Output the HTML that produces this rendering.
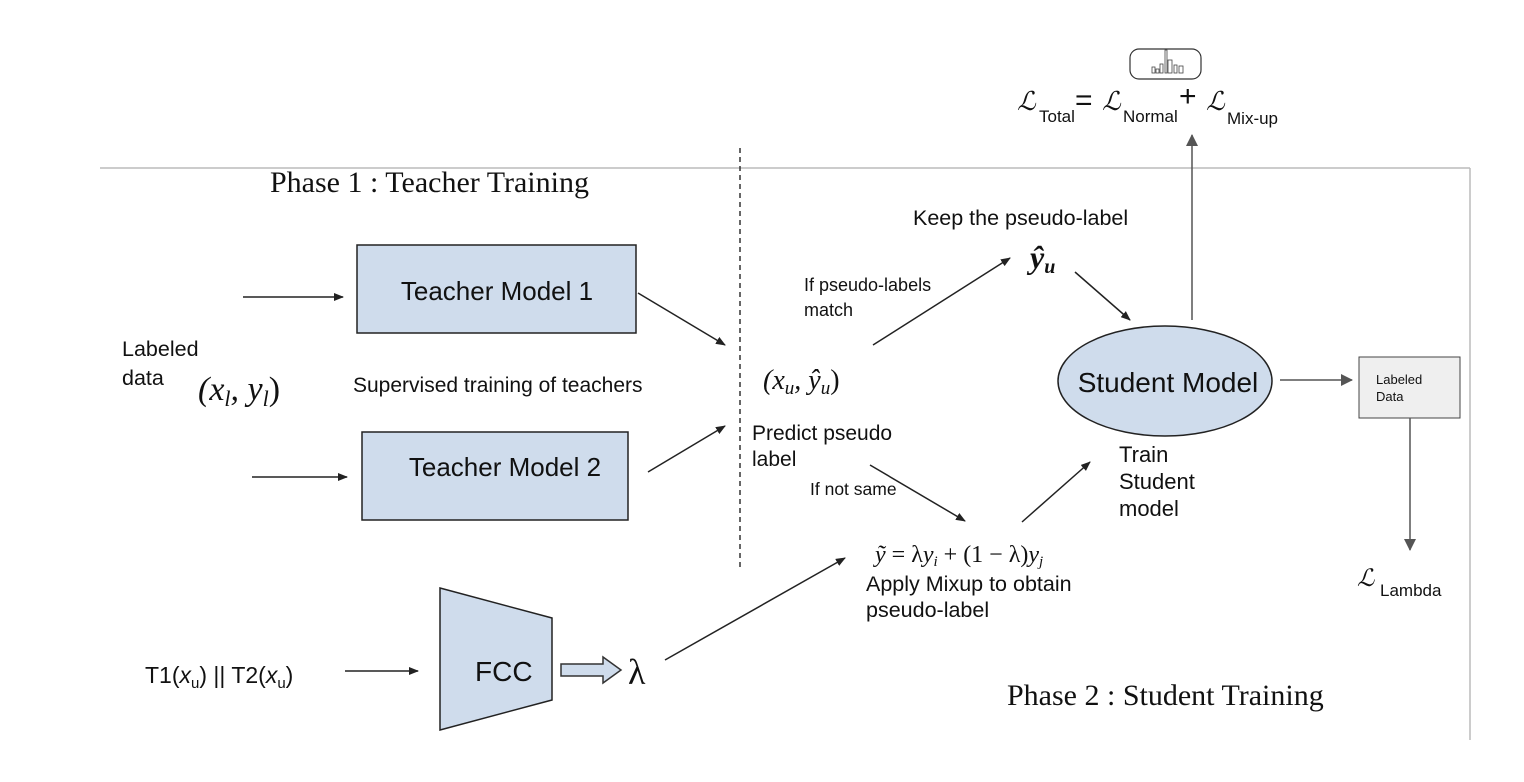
<!DOCTYPE html>
<html><head><meta charset="utf-8"><style>
html,body{margin:0;padding:0;background:#fff;}
svg{display:block;}
.s{font-family:"Liberation Sans",sans-serif;fill:#111;}
.r{font-family:"Liberation Serif",serif;fill:#111;}
.m{font-family:"Liberation Serif",serif;font-style:italic;fill:#111;}
</style></head><body>
<svg width="1524" height="782" viewBox="0 0 1524 782" xmlns="http://www.w3.org/2000/svg">
<defs>
<marker id="a" markerWidth="10" markerHeight="8" refX="9" refY="4" orient="auto" markerUnits="userSpaceOnUse"><path d="M0,0 L10,4 L0,8 z" fill="#222"/></marker>
<marker id="g" markerWidth="12" markerHeight="12" refX="11" refY="6" orient="auto" markerUnits="userSpaceOnUse"><path d="M0,0 L12,6 L0,12 z" fill="#555"/></marker>
</defs>
<line x1="100" y1="168" x2="1470" y2="168" stroke="#bbb" stroke-width="1.5"/>
<line x1="1470" y1="168" x2="1470" y2="740" stroke="#bbb" stroke-width="1.5"/>
<line x1="740" y1="148" x2="740" y2="568" stroke="#333" stroke-width="1.5" stroke-dasharray="5,4"/>

<text class="r" x="270" y="192" font-size="30">Phase 1 : Teacher Training</text>
<text class="r" x="1007" y="705" font-size="30">Phase 2 : Student Training</text>

<rect x="357" y="245" width="279" height="88" fill="#cfdcec" stroke="#222" stroke-width="1.5"/>
<text class="s" x="497" y="300" font-size="26" text-anchor="middle">Teacher Model 1</text>
<rect x="362" y="432" width="266" height="88" fill="#cfdcec" stroke="#222" stroke-width="1.5"/>
<text class="s" x="505" y="476" font-size="26" text-anchor="middle">Teacher Model 2</text>
<line x1="243" y1="297" x2="343" y2="297" stroke="#222" stroke-width="1.5" marker-end="url(#a)"/>
<line x1="252" y1="477" x2="347" y2="477" stroke="#222" stroke-width="1.5" marker-end="url(#a)"/>
<line x1="638" y1="293" x2="725" y2="345" stroke="#222" stroke-width="1.5" marker-end="url(#a)"/>
<line x1="648" y1="472" x2="725" y2="426" stroke="#222" stroke-width="1.5" marker-end="url(#a)"/>

<text class="s" x="122" y="356" font-size="21.5">Labeled</text>
<text class="s" x="122" y="385" font-size="21.5">data</text>
<text class="m" x="198" y="400" font-size="34">(x<tspan font-size="22" dy="6">l</tspan><tspan dy="-6">, y</tspan><tspan font-size="22" dy="6">l</tspan><tspan dy="-6" font-style="normal">)</tspan></text>
<text class="s" x="353" y="392" font-size="21">Supervised training of teachers</text>

<text class="m" x="763" y="389" font-size="28">(x<tspan font-size="19" dy="5">u</tspan><tspan dy="-5">, ŷ</tspan><tspan font-size="19" dy="5">u</tspan><tspan dy="-5" font-style="normal">)</tspan></text>
<text class="s" x="752" y="440" font-size="21">Predict pseudo</text>
<text class="s" x="752" y="466" font-size="21">label</text>
<text class="s" x="804" y="291" font-size="18">If pseudo-labels</text>
<text class="s" x="804" y="316" font-size="18">match</text>
<line x1="873" y1="345" x2="1010" y2="258" stroke="#222" stroke-width="1.5" marker-end="url(#a)"/>
<text class="s" x="913" y="225" font-size="21.5">Keep the pseudo-label</text>
<text class="m" x="1030" y="268" font-size="32" font-weight="bold">ŷ<tspan font-size="20" dy="5">u</tspan></text>
<line x1="1075" y1="272" x2="1130" y2="320" stroke="#222" stroke-width="1.5" marker-end="url(#a)"/>
<text class="s" x="810" y="495" font-size="17.5">If not same</text>
<line x1="870" y1="465" x2="965" y2="521" stroke="#222" stroke-width="1.5" marker-end="url(#a)"/>
<line x1="1022" y1="522" x2="1090" y2="462" stroke="#222" stroke-width="1.5" marker-end="url(#a)"/>
<text class="m" x="875" y="562" font-size="24">ỹ <tspan font-style="normal">= λ</tspan>y<tspan font-size="15" dy="4">i</tspan><tspan dy="-4" font-style="normal"> + (1 − λ)</tspan>y<tspan font-size="15" dy="4">j</tspan></text>
<text class="s" x="866" y="591" font-size="21.5">Apply Mixup to obtain</text>
<text class="s" x="866" y="617" font-size="21.5">pseudo-label</text>

<ellipse cx="1165" cy="381" rx="107" ry="55" fill="#cfdcec" stroke="#222" stroke-width="1.5"/>
<text class="s" x="1168" y="392" font-size="28" text-anchor="middle">Student Model</text>
<text class="s" x="1119" y="462" font-size="22">Train</text>
<text class="s" x="1119" y="489" font-size="22">Student</text>
<text class="s" x="1119" y="516" font-size="22">model</text>
<line x1="1192" y1="320" x2="1192" y2="135" stroke="#555" stroke-width="1.5" marker-end="url(#g)"/>
<line x1="1280" y1="380" x2="1352" y2="380" stroke="#555" stroke-width="1.5" marker-end="url(#g)"/>
<rect x="1359" y="357" width="101" height="61" fill="#efefef" stroke="#444" stroke-width="1"/>
<text class="s" x="1376" y="384" font-size="13">Labeled</text>
<text class="s" x="1376" y="401" font-size="13">Data</text>
<line x1="1410" y1="418" x2="1410" y2="550" stroke="#555" stroke-width="1.5" marker-end="url(#g)"/>
<text class="m" x="1357" y="586" font-size="24">ℒ</text>
<text class="s" x="1380" y="596" font-size="17">Lambda</text>

<rect x="1130" y="49" width="71" height="30" rx="9" fill="#fff" stroke="#333" stroke-width="1.2"/>
<g stroke="#444" stroke-width="0.8" fill="none">
<rect x="1152" y="67" width="3" height="6"/><rect x="1156" y="69" width="3" height="4"/><rect x="1160" y="64" width="3" height="9"/><rect x="1165" y="50" width="2" height="23"/><rect x="1168" y="60" width="4" height="13"/><rect x="1174" y="65" width="3" height="8"/><rect x="1179" y="66" width="4" height="7"/>
</g>
<text class="m" x="1017" y="110" font-size="26">ℒ</text>
<text class="s" x="1039" y="122" font-size="17">Total</text>
<text class="s" x="1075" y="110" font-size="30">=</text>
<text class="m" x="1102" y="110" font-size="26">ℒ</text>
<text class="s" x="1123" y="122" font-size="17">Normal</text>
<text class="s" x="1179" y="106" font-size="30">+</text>
<text class="m" x="1206" y="110" font-size="26">ℒ</text>
<text class="s" x="1227" y="124" font-size="17">Mix-up</text>

<text class="s" x="145" y="683" font-size="23">T1(<tspan font-style="italic">x</tspan><tspan font-size="15" dy="5">u</tspan><tspan dy="-5">) || T2(</tspan><tspan font-style="italic">x</tspan><tspan font-size="15" dy="5">u</tspan><tspan dy="-5">)</tspan></text>
<line x1="345" y1="671" x2="418" y2="671" stroke="#222" stroke-width="1.5" marker-end="url(#a)"/>
<polygon points="440,588 552,618 552,700 440,730" fill="#cfdcec" stroke="#222" stroke-width="1.5"/>
<text class="s" x="475" y="681" font-size="28">FCC</text>
<path d="M561,664 h42 v-7 l18,13 l-18,13 v-7 h-42 z" fill="#cfdcec" stroke="#333" stroke-width="1.5"/>
<text class="r" x="628" y="684" font-size="36">λ</text>
<line x1="665" y1="660" x2="845" y2="558" stroke="#222" stroke-width="1.5" marker-end="url(#a)"/>
</svg>
</body></html>
